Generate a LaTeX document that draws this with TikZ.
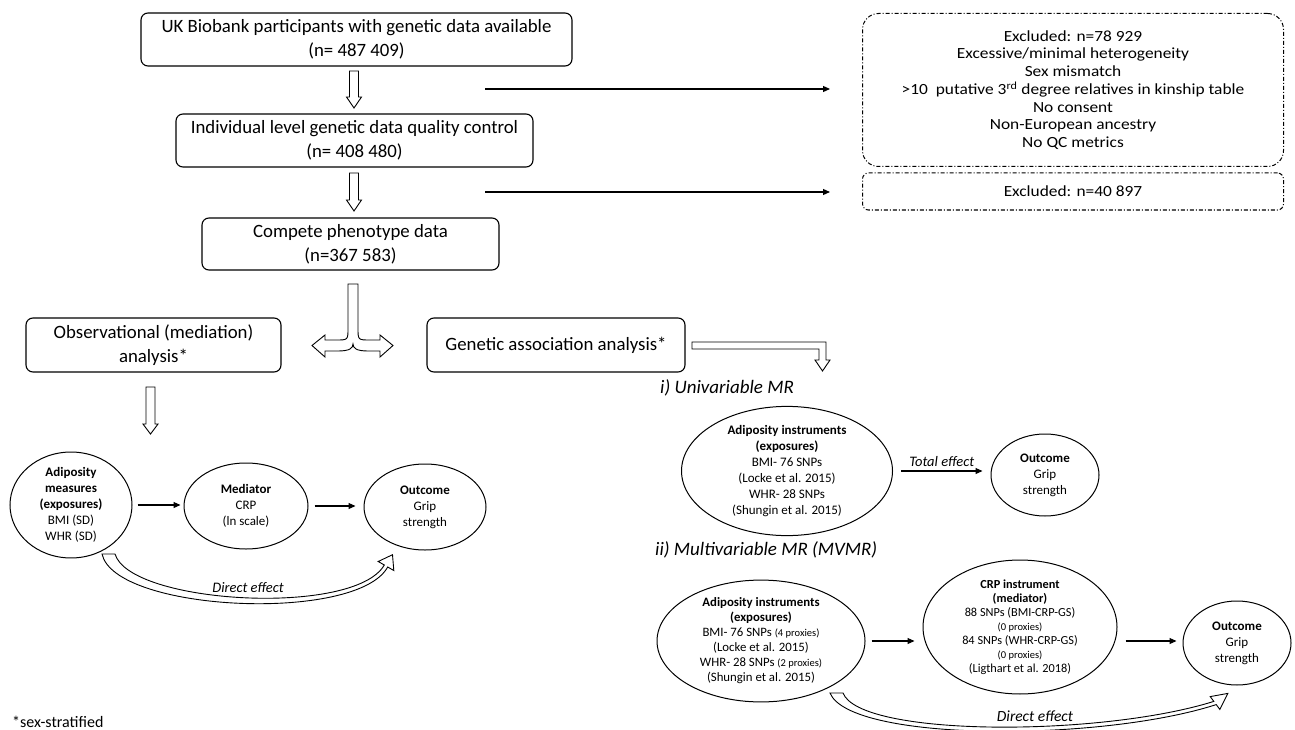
\documentclass[tikz,border=0pt]{standalone}
\usepackage{fontspec}
\setmainfont{Carlito}
\newfontfamily\exfont[FakeStretch=1.12]{Carlito}
\usetikzlibrary{shapes.geometric,arrows.meta}
\newcommand\fzMain{\fontsize{18.8}{24}\selectfont}
\newcommand\fzExc{\exfont\fontsize{15.5}{17.7}\selectfont}
\newcommand\fzEll{\fontsize{13}{16}\selectfont}
\newcommand\fzMv{\fontsize{12.8}{15}\selectfont}
\newcommand\fzCrp{\fontsize{12.3}{14}\selectfont}
\newcommand\fzSmall{\fontsize{10.5}{14}\selectfont}
\newcommand\fzHead{\fontsize{19}{22}\selectfont\itshape}
\newcommand\fzEff{\fontsize{14.5}{17}\selectfont\itshape}
\begin{document}
\begin{tikzpicture}[x=1pt,y=-1pt,
  mbox/.style={draw, rounded corners=7pt, line width=1.1pt, align=center, inner sep=0pt, font=\fzMain},
  dbox/.style={draw, line width=1pt, dash pattern=on 4pt off 2pt on 1pt off 2pt, align=center, inner sep=0pt, font=\fzExc},
  ell/.style={draw, ellipse, line width=1pt, align=center, inner sep=0pt},
  thin/.style={line width=1.1pt, -{Triangle[length=7pt,width=6pt]}},
  hollow/.style={draw, fill=white, line width=0.9pt, line join=miter}
]
\useasboundingbox (0,0) rectangle (1295,730);

% main flow boxes
\node[mbox, minimum width=431pt, minimum height=53pt] (b1) at (356.5,39.5) {UK Biobank participants with genetic data available\\(n= 487 409)};
\node[mbox, minimum width=357pt, minimum height=53pt] (b2) at (354.5,140.5) {Individual level genetic data quality control\\(n= 408 480)};
\node[mbox, minimum width=297pt, minimum height=52pt] (b3) at (350.5,244) {Compete phenotype data\\(n=367 583)};

% exclusion boxes
\node[dbox, rounded corners=16pt, minimum width=421pt, minimum height=153pt] (ex1) at (1073,90) {Excluded: n=78 929\\Excessive/minimal heterogeneity\\Sex mismatch\\>10\ \ putative 3\textsuperscript{rd} degree relatives in kinship table\\No consent\\Non-European ancestry\\No QC metrics};
\node[dbox, rounded corners=6pt, minimum width=421pt, minimum height=37pt] (ex2) at (1073,191.5) {Excluded: n=40 897};

\coordinate (e1s) at (485,89);
\coordinate (e1e) at (830,89);
\coordinate (e2s) at (485,192);
\coordinate (e2e) at (830,192);
\draw[thin] (e1s) -- (e1e);
\draw[thin] (e2s) -- (e2e);

% hollow down arrows
\draw[hollow] (349.5,71) -- (358.5,71) -- (358.5,97) -- (361.5,97) -- (354,108) -- (346.5,97) -- (349.5,97) -- cycle;
\draw[hollow] (349.5,173) -- (358.5,173) -- (358.5,200) -- (361.5,200) -- (354,211) -- (346.5,200) -- (349.5,200) -- cycle;

% analysis boxes
\node[mbox, minimum width=255pt, minimum height=54pt] (obs) at (153.5,345) {Observational (mediation)\\analysis*};
\node[mbox, minimum width=258pt, minimum height=54pt] (gen) at (556,345) {Genetic association analysis*};

% split arrow
\draw[hollow] (348,284) -- (358,284) -- (358,328) .. controls (358,340) .. (370,340) -- (380,340) -- (380,335) -- (393,345.5) -- (380,357) -- (380,351) -- (368,351) .. controls (356,351) and (353,348) .. (353,344) .. controls (353,348) and (350,351) .. (338,351) -- (325,351) -- (325,357) -- (312,345.5) -- (325,335) -- (325,340) -- (336,340) .. controls (348,340) .. (348,328) -- cycle;

% elbow arrow
\draw[hollow] (692,342) -- (826,342) -- (826,360) -- (830,360) -- (822.5,371) -- (815,360) -- (819,360) -- (819,349) -- (692,349) -- cycle;

% obs down arrow
\draw[hollow] (146,387) -- (155,387) -- (155,424) -- (158,424) -- (150.5,434) -- (143,424) -- (146,424) -- cycle;

% left mediation diagram
\node[ell, font=\fzEll, minimum width=122pt, minimum height=86pt] (adip) at (71,505) {\textbf{Adiposity}\\\textbf{measures}\\\textbf{(exposures)}\\BMI (SD)\\WHR (SD)};
\node[ell, font=\fzEll, minimum width=124pt, minimum height=86pt] (med) at (246,506) {\textbf{Mediator}\\CRP\\(ln scale)};
\node[ell, font=\fzEll, minimum width=122pt, minimum height=86pt] (out1) at (425,507) {\textbf{Outcome}\\Grip\\strength};
\draw[thin] ([xshift=5pt]adip.east) -- ([xshift=-3pt]med.west |- adip.east);
\draw[thin] ([xshift=6pt]med.east) -- ([xshift=-8pt]out1.west |- med.east);

% left direct effect
\draw[hollow] (102,554) -- (115,554) .. controls (130,604) and (354.3,617) .. (384.3,565) -- (378.2,561.5) -- (392.5,554.7) -- (393.8,570.5) -- (387.7,567) .. controls (357,623) and (115,612) .. (102,554) -- cycle;
\node[font=\fzEff] (de1) at (248,588) {Direct effect};

% univariable MR
\node[anchor=west, font=\fzHead, inner sep=0pt] (h1) at (660,388) {i) Univariable MR};
\node[ell, font=\fzEll, minimum width=211pt, minimum height=118pt] (uni) at (787,471) {\textbf{Adiposity instruments}\\\textbf{(exposures)}\\BMI- 76 SNPs\\(Locke et al. 2015)\\WHR- 28 SNPs\\(Shungin et al. 2015)};
\node[ell, font=\fzEll, minimum width=108pt, minimum height=82pt] (out2) at (1045,475) {\textbf{Outcome}\\Grip\\strength};
\draw[thin] ([xshift=8pt]uni.east) -- node[above=1pt, font=\fzEff] (te) {Total effect} ([xshift=-8pt]out2.west |- uni.east);

% multivariable MR
\node[anchor=west, font=\fzHead, inner sep=0pt] (h2) at (655,550) {ii) Multivariable MR (MVMR)};
\node[ell, font=\fzMv, minimum width=208pt, minimum height=116pt] (mv1) at (761,641) {\textbf{Adiposity instruments}\\\textbf{(exposures)}\\BMI- 76 SNPs {\fzSmall(4 proxies)}\\(Locke et al. 2015)\\WHR- 28 SNPs {\fzSmall(2 proxies)}\\(Shungin et al. 2015)};
\node[ell, font=\fzCrp, minimum width=194pt, minimum height=126pt] (crp) at (1020,627) {\textbf{CRP instrument}\\\textbf{(mediator)}\\88 SNPs (BMI-CRP-GS)\\{\fzSmall(0 proxies)}\\84 SNPs (WHR-CRP-GS)\\{\fzSmall(0 proxies)}\\(Ligthart et al. 2018)};
\node[ell, font=\fzEll, minimum width=108pt, minimum height=84pt] (out3) at (1237,643) {\textbf{Outcome}\\Grip\\strength};
\draw[thin] ([xshift=6pt]mv1.east) -- ([xshift=-8pt]crp.west |- mv1.east);
\draw[thin] ([xshift=8pt]crp.east |- mv1.east) -- ([xshift=-6pt]out3.west |- mv1.east);

% right direct effect
\draw[hollow] (830,693) -- (843,693) .. controls (860,737) and (1100,737) .. (1213.8,701.4) -- (1210.2,696.6) -- (1227.8,693.4) -- (1219.8,709.4) -- (1216.2,704.6) .. controls (1100,742) and (850,742) .. (830,693) -- cycle;
\node[font=\fontsize{15.5}{18}\selectfont\itshape] (de2) at (1035,716) {Direct effect};

% footnote
\node[anchor=west, font=\fontsize{16}{18}\selectfont, inner sep=0pt] (fn) at (12,722) {*sex-stratified};
\end{tikzpicture}
\end{document}
